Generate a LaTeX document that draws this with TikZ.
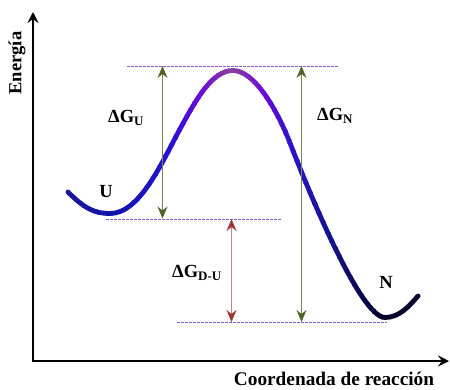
\documentclass[tikz,border=0pt]{standalone}
\usepackage{fontspec}
\setmainfont{Liberation Serif}
\usetikzlibrary{arrows.meta}
\definecolor{c0}{RGB}{25,25,150}
\definecolor{c1}{RGB}{18,18,175}
\definecolor{c2}{RGB}{35,20,210}
\definecolor{c3}{RGB}{105,10,215}
\definecolor{c4}{RGB}{140,65,160}
\definecolor{c5}{RGB}{105,10,215}
\definecolor{c6}{RGB}{40,20,200}
\definecolor{c7}{RGB}{20,20,140}
\definecolor{c8}{RGB}{8,8,85}
\definecolor{c9}{RGB}{0,0,35}
\definecolor{c10}{RGB}{10,10,55}
\definecolor{dashpurple}{RGB}{140,90,200}
\definecolor{gline}{RGB}{115,135,80}
\definecolor{gtip}{RGB}{80,98,40}
\definecolor{rline}{RGB}{205,130,130}
\definecolor{rtip}{RGB}{160,55,55}
\def\curvepath{(68,192) .. controls (85,209) and (95,213.5) .. (110,213.5)
  .. controls (140,213.5) and (162,162) .. (180,129)
  .. controls (196,99.6) and (212,70.5) .. (233,70.5)
  .. controls (255,70.5) and (278,112) .. (290,143)
  .. controls (307,187) and (360,317.5) .. (385,317.5)
  .. controls (400,317.5) and (410,305) .. (418,296)}
\begin{document}
\begin{tikzpicture}[x=1pt,y=-1pt,
  axis/.style={line width=1.8pt,-{Stealth[length=11pt,width=11pt,inset=4pt]}},
  curvestyle/.style={line width=4.8pt,line cap=round},
  dline/.style={dashpurple,line width=0.9pt,dash pattern=on 2.5pt off 1.5pt},
  garrow/.style={gline,line width=1.3pt,{Stealth[length=12pt,width=10pt,inset=4pt,color=gtip]}-{Stealth[length=12pt,width=10pt,inset=4pt,color=gtip]}},
  rarrow/.style={rline,line width=1.3pt,{Stealth[length=12pt,width=10pt,inset=4pt,color=rtip]}-{Stealth[length=12pt,width=10pt,inset=4pt,color=rtip]}},
  lbl/.style={font=\fontsize{18.5}{20}\selectfont\bfseries,inner sep=0pt},
]
\useasboundingbox (0,0) rectangle (450,389);
% axes
\coordinate (O) at (33,361);
\coordinate (Ytop) at (33,12);
\coordinate (Xend) at (449,361);
\draw[axis] (O) -- (Ytop);
\draw[axis] ([xshift=-0.9pt]O) -- (Xend);
\node[lbl,rotate=90] (ylab) at (17,63) {Energía};
\node[lbl,font=\fontsize{19.3}{21}\selectfont\bfseries] (xlab) at (334,379) {Coordenada de reacción};
% dashed levels
\coordinate (t1) at (127,66); \coordinate (t2) at (338,66);
\coordinate (m1) at (106,219); \coordinate (m2) at (282,219);
\coordinate (b1) at (177,322.5); \coordinate (b2) at (387,322.5);
\draw[dline] (t1) -- (t2);
\draw[dline] (m1) -- (m2);
\draw[dline] (b1) -- (b2);
% gradient curve
\foreach \xa/\xb/\ca/\cb in {60/120/c0/c1,120/170/c1/c2,170/200/c2/c3,200/233/c3/c4,233/265/c4/c5,265/295/c5/c6,295/330/c6/c7,330/360/c7/c8,360/385/c8/c9,385/425/c9/c10}{
  \foreach \i in {0,...,7}{
    \pgfmathsetmacro\xl{\xa+(\xb-\xa)*\i/8-0.4}
    \pgfmathsetmacro\xr{\xa+(\xb-\xa)*(\i+1)/8+0.4}
    \pgfmathsetmacro\pp{100-(\i+0.5)*12.5}
    \begin{scope}
      \clip (\xl,0) rectangle (\xr,389);
      \draw[curvestyle,color=\ca!\pp!\cb] \curvepath;
    \end{scope}
  }
}
% arrows
\coordinate (gu1) at (162.5,66); \coordinate (gu2) at (162.5,218.5);
\coordinate (gn1) at (301.5,66); \coordinate (gn2) at (301.5,322);
\coordinate (rd1) at (231.5,219); \coordinate (rd2) at (231.5,322);
\draw[garrow] (gu1) -- (gu2);
\draw[garrow] (gn1) -- (gn2);
\draw[rarrow] (rd1) -- (rd2);
% labels
\node[lbl,anchor=base west] (dgu) at (108,122) {ΔG\raisebox{-3.5pt}{\fontsize{13}{14}\selectfont U}};
\node[lbl,anchor=base west] (dgn) at (317,120) {ΔG\raisebox{-3.5pt}{\fontsize{13}{14}\selectfont N}};
\node[lbl,anchor=base west] (dgd) at (172,277) {ΔG\raisebox{-3.5pt}{\fontsize{13}{14}\selectfont D-U}};
\node[lbl] (U) at (106,191.5) {U};
\node[lbl] (N) at (386,282) {N};
\end{tikzpicture}
\end{document}
